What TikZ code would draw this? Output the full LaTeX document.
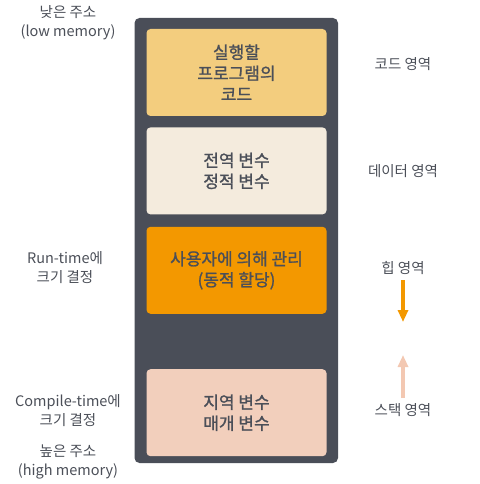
\documentclass[tikz,border=0pt]{standalone}
\usepackage{fontspec}
\setmainfont{Noto Sans CJK KR}
\newfontfamily\boxfont[FakeBold=1.2]{Noto Sans CJK KR}
\usetikzlibrary{positioning,arrows.meta}

\definecolor{frame}{HTML}{4A4E58}
\definecolor{ink}{HTML}{4B4F58}
\definecolor{codefill}{HTML}{F3CD7E}
\definecolor{datafill}{HTML}{F4EBDD}
\definecolor{heapfill}{HTML}{F39800}
\definecolor{stackfill}{HTML}{F2CFBC}
\definecolor{stackarrow}{HTML}{F3C8B2}

\begin{document}
\begin{tikzpicture}[x=1pt,y=-1pt,
  area/.style={rectangle, rounded corners=4pt, minimum width=180pt,
    minimum height=87pt, inner sep=0pt, align=center, text=ink,
    font=\boxfont\fontsize{17}{21}\selectfont},
  note/.style={align=center, text=ink, font=\fontsize{14.5}{19}\selectfont},
  growarrow/.style={line width=4pt, -{Triangle[width=10pt,length=12pt]}}]

  \useasboundingbox (0,0) rectangle (479,484);

  % memory block
  \node (M) [fill=frame, rounded corners=5pt, minimum width=203.5pt,
    minimum height=445pt, inner sep=0pt] at (236.25,240.5) {};

  \node (A) [area, fill=codefill] at (236.5,72.5) {실행할\\프로그램의\\코드};
  \node (B) [area, fill=datafill, below=11pt of A] {전역 변수\\정적 변수};
  \node (C) [area, fill=heapfill, below=12pt of B] {사용자에 의해 관리\\(동적 할당)};
  \node (D) [area, fill=stackfill, below=55pt of C] {지역 변수\\매개 변수};

  % right side
  \node (A1) [note] at (403,64) {코드 영역};
  \node (B1) [note] at (403,171) {데이터 영역};
  \node (C1) [note] at (403,268) {힙 영역};
  \node (D1) [note] at (403,410) {스택 영역};

  \coordinate (h1) at (403,280);
  \coordinate (h2) at (403,322);
  \coordinate (s1) at (403,398);
  \coordinate (s2) at (403,355);

  \draw [growarrow, heapfill] (h1) -- (h2);
  \draw [growarrow, stackarrow] (s1) -- (s2);

  % left side
  \node (L) [note] at (68,22.5) {낮은 주소\\(low memory)};
  \node (R) [note] at (65,267.5) {Run-time에\\크기 결정};
  \node (P) [note] at (68,411) {Compile-time에\\크기 결정};
  \node (H) [note] at (68,462) {높은 주소\\(high memory)};

\end{tikzpicture}
\end{document}
